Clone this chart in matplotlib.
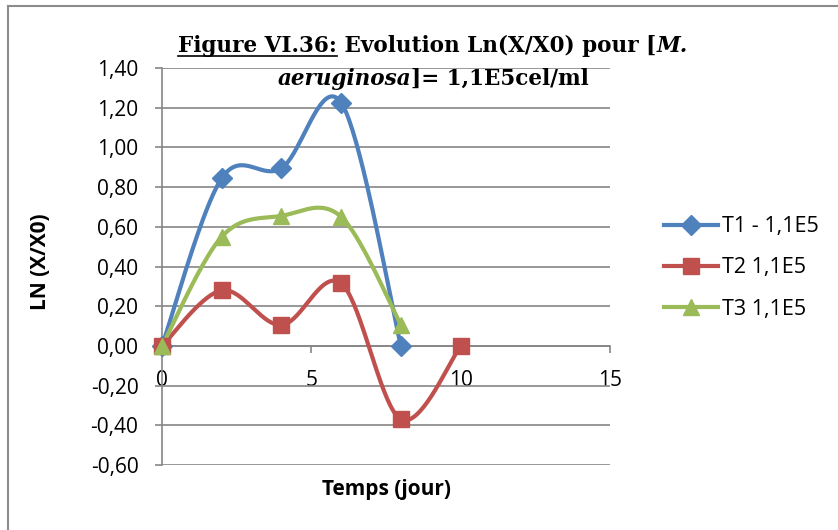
import numpy as np
import matplotlib
matplotlib.use("Agg")
import matplotlib.pyplot as plt
from matplotlib.lines import Line2D

# ---- data ----
t1_x = [0, 2, 4, 6, 8]
t1_y = [0.0, 0.845, 0.895, 1.225, 0.0]
t2_x = [0, 2, 4, 6, 8, 10]
t2_y = [0.0, 0.28, 0.105, 0.315, -0.37, 0.0]
t3_x = [0, 2, 4, 6, 8]
t3_y = [0.0, 0.55, 0.655, 0.65, 0.105]
series_names = ["T1 - 1,1E5", "T2 1,1E5", "T3 1,1E5"]
yticks = [-0.6, -0.4, -0.2, 0.0, 0.2, 0.4, 0.6, 0.8, 1.0, 1.2, 1.4]
xticks = [0, 5, 10, 15]

colors = ["#4F81BD", "#C0504D", "#9BBB59"]
markers = ["D", "s", "^"]
msizes = [10, 11.5, 12]


def excel_smooth(xs, ys, n=40):
    P = np.column_stack([xs, ys]).astype(float)
    m = len(P)
    out = []
    for i in range(m - 1):
        p0 = P[i - 1] if i > 0 else P[i]
        p1 = P[i]
        p2 = P[i + 1]
        p3 = P[i + 2] if i + 2 < m else P[i + 1]
        b1 = p1 + (p2 - p0) / 6.0
        b2 = p2 - (p3 - p1) / 6.0
        t = np.linspace(0, 1, n)[:, None]
        seg = ((1 - t) ** 3) * p1 + 3 * ((1 - t) ** 2) * t * b1 + 3 * (1 - t) * t ** 2 * b2 + t ** 3 * p2
        out.append(seg if i == 0 else seg[1:])
    out = np.vstack(out)
    return out[:, 0], out[:, 1]


W, H = 838, 530
fig = plt.figure(figsize=(W / 100, H / 100), dpi=100)
fig.patch.set_facecolor("white")
sans = ["Open Sans", "DejaVu Sans"]
serif = ["DejaVu Serif"]
fs = 15

# outer frame (top and left lines)
fig.add_artist(Line2D([8 / W, 8 / W], [0, 1 - 6 / H], color="#8c8c8c", lw=1.5, transform=fig.transFigure))
fig.add_artist(Line2D([8 / W, 1], [1 - 6 / H, 1 - 6 / H], color="#8c8c8c", lw=1.5, transform=fig.transFigure))

ax = fig.add_axes([162 / W, 1 - 465 / H, (610 - 162) / W, (465 - 68) / H])
for s in ["top", "right"]:
    ax.spines[s].set_visible(False)
ax.spines["bottom"].set_position(("data", 0))
ax.set_xlim(0, 15)
ax.set_ylim(-0.6, 1.4)
ax.set_yticks(yticks)
ax.set_xticks(xticks)
ax.set_yticklabels([("%.2f" % v).replace(".", ",") for v in yticks], fontfamily=sans, fontsize=fs)
ax.set_xticklabels([str(v) for v in xticks], fontfamily=sans, fontsize=fs)
ax.spines["bottom"].set_color("#868686")
ax.spines["left"].set_color("#868686")
ax.spines["bottom"].set_linewidth(1.2)
ax.spines["left"].set_linewidth(1.2)
ax.grid(axis="y", color="#868686", lw=1.2)
ax.set_axisbelow(True)
ax.tick_params(axis="y", length=5, width=1.2, color="#868686", pad=12)
ax.tick_params(axis="x", length=5, width=1.2, color="#868686", pad=12, direction="out")

data = [(t1_x, t1_y), (t2_x, t2_y), (t3_x, t3_y)]
handles = []
for (xs, ys), c, mk, ms, name in zip(data, colors, markers, msizes, series_names):
    sx, sy = excel_smooth(xs, ys)
    ax.plot(sx, sy, color=c, lw=3, zorder=3, clip_on=False, solid_capstyle="round")
    ax.plot(xs, ys, linestyle="none", marker=mk, markersize=ms, color=c, zorder=4, clip_on=False)
    handles.append(Line2D([], [], color=c, lw=3, marker=mk, markersize=ms, label=name))

fig.legend(handles=handles, loc="center left", bbox_to_anchor=(664 / W, 1 - 268 / H), frameon=False,
           prop={"family": sans, "size": fs + 0.5}, handlelength=2.5, handletextpad=0.2, labelspacing=0.95,
           borderpad=0, borderaxespad=0)

fig.text(40 / W, 1 - 262 / H, "LN (X/X0)", rotation=90, ha="center", va="center",
         fontfamily=sans, fontsize=fs, fontweight="bold")
fig.text(386 / W, 1 - 490 / H, "Temps (jour)", ha="center", va="center",
         fontfamily=sans, fontsize=fs, fontweight="bold")

# title with mixed styles
fig.canvas.draw()
renderer = fig.canvas.get_renderer()
tsize = 15.5


def place_line(parts, xcenter_px, ybase_px, underline_idx=None):
    texts = []
    for s, style in parts:
        t = fig.text(0, 1 - ybase_px / H, s, fontfamily=serif, fontsize=tsize, fontweight="bold",
                     fontstyle=style, va="baseline", ha="left")
        texts.append(t)
    widths = [t.get_window_extent(renderer).width for t in texts]
    total = sum(widths)
    x = xcenter_px - total / 2
    for i, (t, w) in enumerate(zip(texts, widths)):
        t.set_x(x / W)
        if underline_idx is not None and i == underline_idx:
            fig.add_artist(Line2D([x / W, (x + w) / W], [1 - (ybase_px + 4) / H] * 2, color="black",
                                  lw=1.2, transform=fig.transFigure))
        x += w


place_line([("Figure VI.36:", "normal"), (" Evolution Ln(X/X0) pour [", "normal"), ("M.", "italic")],
           433, 52, underline_idx=0)
place_line([("aeruginosa", "italic"), ("]= 1,1E5cel/ml", "normal")], 433, 85)

fig.savefig("out.png", dpi=100, facecolor="white")
